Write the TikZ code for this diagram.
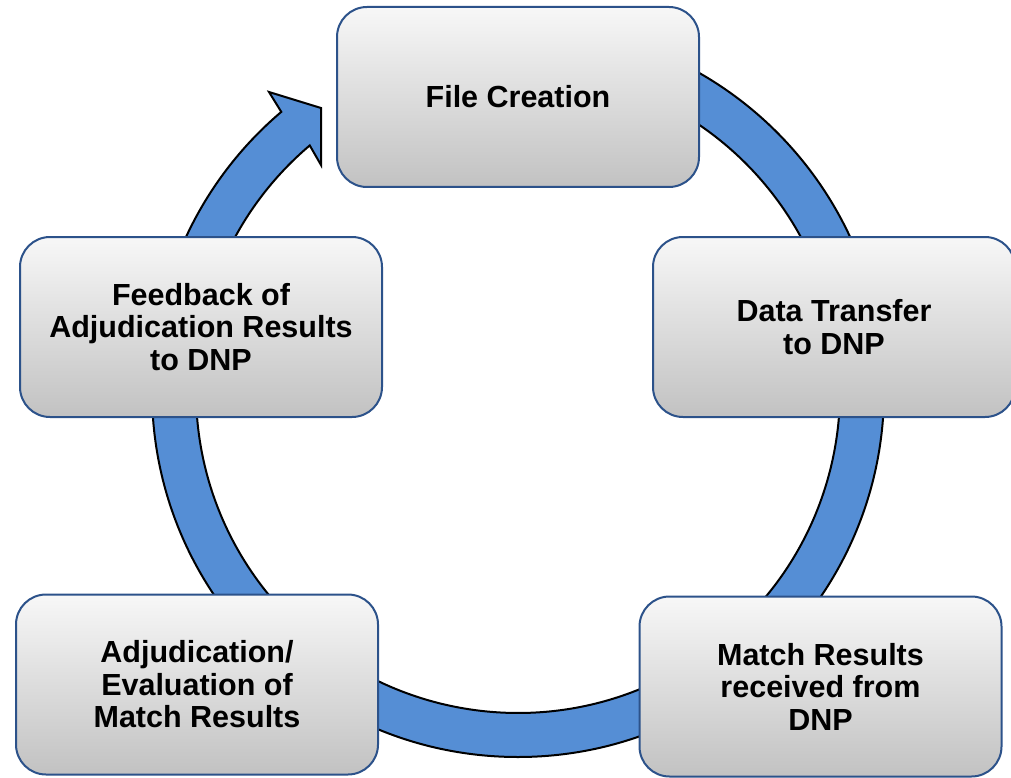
\documentclass[tikz,border=0pt]{standalone}
\usepackage{fontspec}
\setmainfont{Liberation Sans}
\usepackage{xcolor}
\usepackage{tikz}

\definecolor{ringblue}{RGB}{85,142,213}
\definecolor{boxline}{RGB}{44,82,138}

\begin{document}
\begin{tikzpicture}[x=1pt,y=1pt,
  stepbox/.style={rectangle,rounded corners=30,draw=boxline,line width=2,
    top color=black!3,middle color=black!10,bottom color=black!24,
    minimum width=362,minimum height=180,
    align=center,font=\fontsize{30.5}{32.5}\selectfont\bfseries},
  ring/.style={fill=ringblue,draw=black,line width=2,line join=miter}]
\useasboundingbox (0,0) rectangle (1011,-778);
% circular arrow
\begin{scope}[shift={(518,-391)}]
\filldraw[ring] (90:366) arc[start angle=90,end angle=-229.7,radius=366]
  -- (-249,299) -- (-197,283) -- (-197,226) -- (-229.7:322)
  arc[start angle=-229.7,end angle=90,radius=322] -- cycle;
\end{scope}
% steps
\node (create) at (518,-97) [stepbox] {File Creation};
\node (transfer) at (834,-327) [stepbox] {Data Transfer\\to DNP};
\node (match) at (820.5,-686.5) [stepbox] {Match Results\\received from\\DNP};
\node (adjud) at (197,-684.5) [stepbox] {Adjudication/\\Evaluation of\\Match Results};
\node (feedback) at (201,-327) [stepbox] {Feedback of\\Adjudication Results\\to DNP};
\end{tikzpicture}
\end{document}
